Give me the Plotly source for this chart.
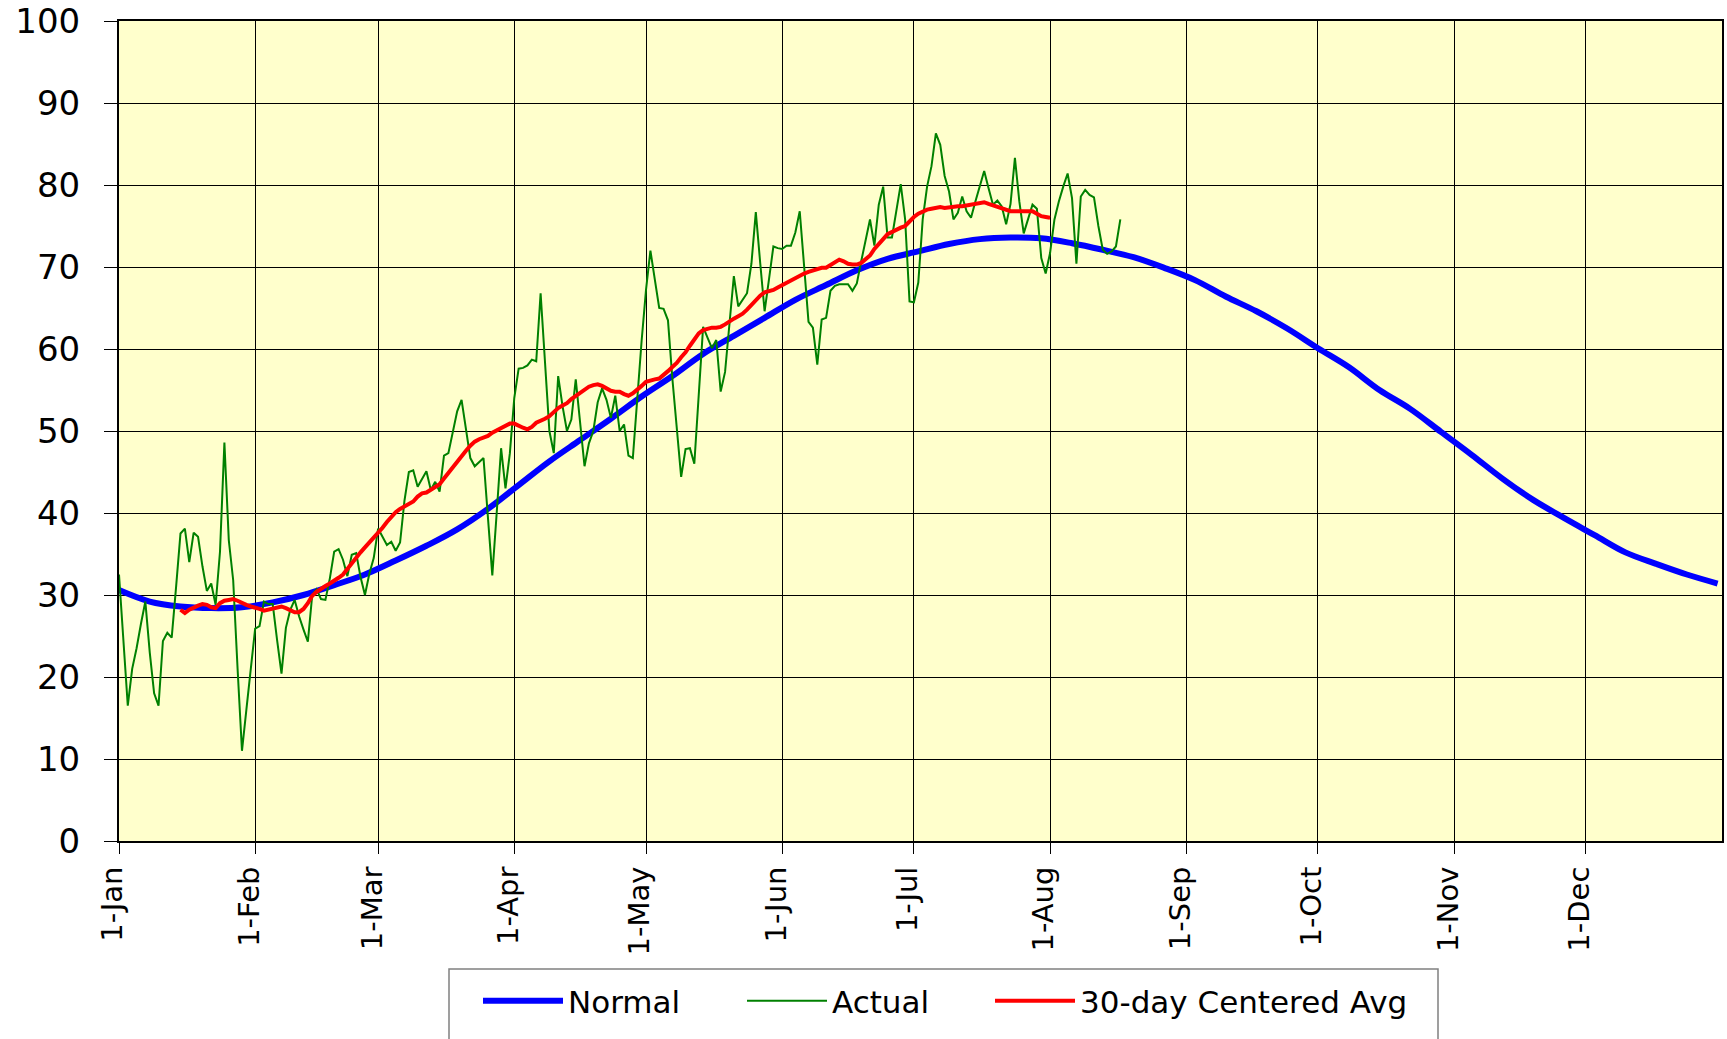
import pandas as pd
import plotly.graph_objects as go

# ---------------- data ----------------
year_start = "2007-01-01"

# daily observed values, starting 1-Jan
actual_values = [
    32.5, 24.5, 16.5, 21.0, 23.5, 26.5, 29.2, 23.0, 18.0, 16.5,
    24.4, 25.4, 24.8, 31.0, 37.5, 38.1, 34.0, 37.6, 37.1, 33.5,
    30.5, 31.4, 28.8, 35.3, 48.6, 36.7, 31.8, 21.0, 11.0, 16.0,
    21.0, 25.9, 26.2, 29.2, 28.9, 28.9, 24.5, 20.4, 26.0, 28.2,
    29.4, 27.4, 25.8, 24.3, 30.0, 30.7, 29.5, 29.4, 32.0, 35.3,
    35.6, 34.3, 32.3, 34.9, 35.1, 32.2, 30.0, 32.6, 34.5, 38.1,
    37.1, 36.1, 36.5, 35.4, 36.4, 41.5, 45.0, 45.2, 43.2, 44.2,
    45.1, 42.8, 43.8, 42.6, 47.0, 47.3, 50.0, 52.4, 53.8, 50.0,
    46.7, 45.7, 46.2, 46.7, 39.5, 32.4, 40.0, 47.9, 43.0, 47.3,
    54.0, 57.6, 57.7, 58.0, 58.7, 58.5, 66.8, 57.9, 50.0, 47.3,
    56.7, 53.0, 50.0, 51.4, 56.3, 51.0, 45.7, 48.5, 50.0, 53.5,
    55.2, 53.8, 51.6, 54.3, 50.0, 50.8, 47.0, 46.7, 54.0, 61.0,
    67.2, 72.0, 68.5, 65.0, 64.9, 63.5, 56.4, 50.0, 44.4, 47.8,
    47.9, 46.0, 54.0, 62.7, 61.4, 60.1, 61.1, 54.8, 57.2, 63.0,
    68.9, 65.2, 66.0, 66.8, 70.4, 76.7, 70.5, 64.6, 68.5, 72.5,
    72.3, 72.2, 72.6, 72.6, 74.2, 76.8, 70.1, 63.3, 62.6, 58.1,
    63.6, 63.8, 67.1, 67.7, 67.9, 67.9, 67.9, 67.1, 68.0, 70.7,
    73.2, 75.8, 72.6, 77.6, 79.8, 73.6, 73.6, 76.8, 80.1, 75.8,
    65.8, 65.7, 68.1, 75.8, 79.8, 82.3, 86.3, 84.9, 81.1, 79.2,
    75.8, 76.6, 78.6, 76.8, 76.0, 78.0, 79.8, 81.7, 79.6, 77.6,
    78.1, 77.4, 75.2, 77.7, 83.3, 78.0, 74.1, 76.0, 77.6, 77.1,
    71.1, 69.2, 71.7, 75.8, 78.0, 79.8, 81.4, 78.4, 70.4, 78.6,
    79.4, 78.8, 78.5, 75.0, 72.1, 71.6, 71.9, 72.5, 75.8,
]

# 30-day centered average, starting 15-Jan (day 14)
avg_start_day = 14
avg_values = [
    28.2, 27.8, 28.2, 28.5, 28.7, 28.9, 28.8, 28.5, 28.4, 29.0,
    29.3, 29.4, 29.5, 29.3, 29.0, 28.8, 28.6, 28.5, 28.3, 28.1,
    28.2, 28.4, 28.5, 28.6, 28.4, 28.1, 27.9, 27.9, 28.3, 29.0,
    29.9, 30.4, 30.8, 31.1, 31.4, 31.7, 32.1, 32.5, 33.2, 33.9,
    34.5, 35.2, 35.8, 36.4, 37.0, 37.5, 38.2, 38.9, 39.6, 40.1,
    40.5, 40.8, 41.1, 41.4, 42.0, 42.4, 42.5, 42.8, 43.1, 43.5,
    44.2, 44.9, 45.6, 46.3, 47.0, 47.6, 48.2, 48.7, 49.0, 49.2,
    49.4, 49.8, 50.1, 50.4, 50.6, 50.9, 50.9, 50.6, 50.4, 50.2,
    50.5, 51.0, 51.2, 51.5, 51.8, 52.3, 52.8, 53.1, 53.4, 53.9,
    54.3, 54.7, 55.1, 55.4, 55.6, 55.7, 55.5, 55.2, 54.9, 54.8,
    54.8, 54.5, 54.3, 54.6, 55.0, 55.5, 56.0, 56.2, 56.3, 56.4,
    56.8, 57.3, 57.8, 58.3, 59.0, 59.6, 60.4, 61.2, 61.9, 62.3,
    62.5, 62.6, 62.6, 62.7, 63.0, 63.4, 63.7, 64.0, 64.3, 64.8,
    65.4, 65.9, 66.5, 66.9, 67.0, 67.2, 67.5, 67.8, 68.1, 68.4,
    68.6, 68.9, 69.2, 69.4, 69.6, 69.8, 69.9, 69.9, 70.2, 70.6,
    70.9, 70.7, 70.4, 70.3, 70.3, 70.5, 70.9, 71.4, 72.2, 72.9,
    73.4, 74.0, 74.3, 74.5, 74.8, 75.0, 75.6, 76.1, 76.5, 76.8,
    77.0, 77.1, 77.2, 77.3, 77.2, 77.3, 77.3, 77.4, 77.4, 77.5,
    77.5, 77.6, 77.8, 77.9, 77.7, 77.5, 77.3, 77.1, 76.9, 76.8,
    76.8, 76.8, 76.8, 76.8, 76.8, 76.5, 76.2, 76.1, 76.0,
]

# normal curve, read weekly (day of year, value)
normal_days = [0, 7, 14, 21, 28, 35, 42, 49, 56, 63, 70, 77, 84, 91, 98,
               105, 112, 119, 126, 133, 140, 147, 154, 161, 168, 175, 182,
               189, 196, 203, 210, 217, 224, 231, 238, 245, 252, 259, 266,
               273, 280, 287, 294, 301, 308, 315, 322, 329, 336, 343, 350,
               357, 364]
normal_values = [30.6, 29.2, 28.6, 28.4, 28.5, 29.1, 30.0, 31.2, 32.5, 34.2,
                 36.0, 38.0, 40.5, 43.4, 46.3, 48.9, 51.5, 54.2, 56.7, 59.4,
                 61.6, 63.8, 66.0, 67.8, 69.6, 71.0, 71.9, 72.8, 73.4, 73.6,
                 73.5, 72.9, 72.1, 71.2, 69.9, 68.4, 66.4, 64.6, 62.5, 60.1,
                 57.8, 55.0, 52.7, 49.9, 47.1, 44.2, 41.6, 39.4, 37.3, 35.2,
                 33.8, 32.5, 31.4]

month_ticks = ["2007-01-01", "2007-02-01", "2007-03-01", "2007-04-01",
               "2007-05-01", "2007-06-01", "2007-07-01", "2007-08-01",
               "2007-09-01", "2007-10-01", "2007-11-01", "2007-12-01"]
month_labels = ["1-Jan", "1-Feb", "1-Mar", "1-Apr", "1-May", "1-Jun",
                "1-Jul", "1-Aug", "1-Sep", "1-Oct", "1-Nov", "1-Dec"]

# ---------------- build ----------------
t0 = pd.Timestamp(year_start)
actual_dates = t0 + pd.to_timedelta(list(range(len(actual_values))), unit="D")
avg_dates = t0 + pd.to_timedelta([avg_start_day + i for i in range(len(avg_values))], unit="D")
normal_dates = t0 + pd.to_timedelta(normal_days, unit="D")

FONT = "DejaVu Sans"

W, H = 1727, 1039
ml, mr, mt, mb = 119, 5, 21, 198
pw, ph = W - ml - mr, H - mt - mb


def px_x(x):
    return (x - ml) / pw


def px_y(y):
    return (H - mb - y) / ph


fig = go.Figure()
fig.add_trace(go.Scatter(x=normal_dates, y=normal_values, name="Normal",
                         mode="lines", line=dict(color="#0000FF", width=6, shape="spline"),
                         legend="legend"))
fig.add_trace(go.Scatter(x=actual_dates, y=actual_values, name="Actual",
                         mode="lines", line=dict(color="#008000", width=2),
                         legend="legend2"))
fig.add_trace(go.Scatter(x=avg_dates, y=avg_values, name="30-day Centered Avg",
                         mode="lines", line=dict(color="#FF0000", width=4),
                         legend="legend3"))


def leg(xpix):
    return dict(
        orientation="h",
        x=px_x(xpix), xanchor="left",
        y=px_y(1001), yanchor="middle",
        bgcolor="rgba(0,0,0,0)", borderwidth=0,
        font=dict(family=FONT, size=31, color="black"),
        itemwidth=80,
    )


fig.update_layout(
    width=W, height=H,
    margin=dict(l=ml, r=mr, t=mt, b=mb, pad=0),
    paper_bgcolor="white",
    plot_bgcolor="#FFFFCC",
    font=dict(family=FONT, color="black"),
    showlegend=True,
    legend=leg(478),
    legend2=leg(742),
    legend3=leg(990),
    shapes=[dict(type="rect", xref="paper", yref="paper",
                 x0=px_x(449), x1=px_x(1438), y0=px_y(969), y1=px_y(1060),
                 line=dict(color="#808080", width=1.5), fillcolor="white",
                 layer="below")],
)

fig.update_xaxes(
    type="date",
    range=["2007-01-01", "2008-01-01"],
    tickvals=month_ticks, ticktext=month_labels,
    tickangle=-90,
    tickfont=dict(family=FONT, size=29, color="black"),
    ticks="outside", ticklen=11, tickcolor="black", tickwidth=1,
    ticklabelstandoff=1, ticklabelshift=-6,
    showgrid=True, gridcolor="black", gridwidth=1,
    showline=True, linecolor="black", linewidth=2, mirror=True,
    zeroline=False, automargin=False,
)
fig.update_yaxes(
    range=[0, 100], dtick=10, tick0=0,
    tickfont=dict(family=FONT, size=34, color="black"),
    ticks="outside", ticklen=13, tickcolor="black", tickwidth=1,
    ticklabelstandoff=17,
    showgrid=True, gridcolor="black", gridwidth=1,
    showline=True, linecolor="black", linewidth=2, mirror=True,
    zeroline=False, automargin=False,
)

fig.write_html(
    "out.html",
    config={"displayModeBar": False},
    post_script="document.body.style.margin='0px';"
                "document.documentElement.style.overflow='hidden';",
)
